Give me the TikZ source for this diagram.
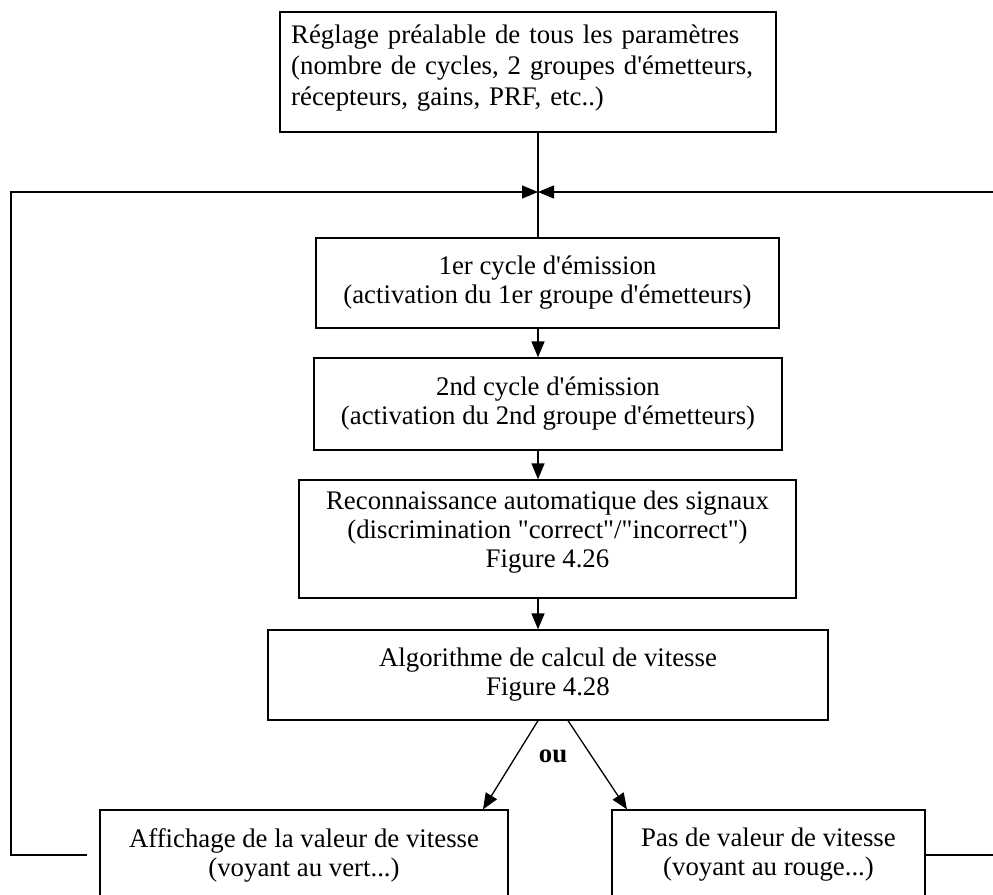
\documentclass[tikz,border=0pt]{standalone}
\usepackage{fontspec}
\setmainfont{Liberation Serif}[Ligatures=TeXOff]
\usetikzlibrary{arrows.meta}
\begin{document}
\begin{tikzpicture}[x=1pt,y=-1pt,
  txt/.style={font=\fontsize{26.8}{29}\selectfont},
  box/.style={draw, line width=1.3pt, inner sep=0pt, align=center, txt},
  ln/.style={line width=1.3pt},
  arr/.style={line width=1.3pt, -{Triangle[length=16pt,width=13pt]}}]
\useasboundingbox (0,0) rectangle (993,894);
\clip (0,0) rectangle (993,894);
% top box and its text
\node[box, minimum width=496pt, minimum height=120pt] (top) at (528,72) {};
\node[inner sep=0pt, anchor=north west, align=left, text width=474pt,
      font=\fontsize{26.8}{31}\selectfont] (toptext) at (291,24.5)
  {Réglage préalable de tous les paramètres\\
   \makebox[474pt][s]{(nombre de cycles, 2 groupes d'émetteurs,}\\
   récepteurs, gains, PRF, etc..)};
% process boxes
\node[box, minimum width=463pt, minimum height=90pt] (b1) at (547.5,283)
  {1er cycle d'émission\\(activation du 1er groupe d'émetteurs)};
\node[box, minimum width=468pt, minimum height=92pt] (b2) at (548,404)
  {2nd cycle d'émission\\(activation du 2nd groupe d'émetteurs)};
\node[box, minimum width=497pt, minimum height=118pt] (b3) at (547.5,539) {};
\node[txt, inner sep=0pt, align=center] (b3text) at (547.5,532)
  {Reconnaissance automatique des signaux\\(discrimination "correct"/"incorrect")\\Figure 4.26};
\node[box, minimum width=560pt, minimum height=90pt] (b4) at (548,675)
  {Algorithme de calcul de vitesse\\Figure 4.28};
\node[box, minimum width=408pt, minimum height=90pt] (bl) at (304,855)
  {Affichage de la valeur de vitesse\\(voyant au vert...)};
\node[box, minimum width=313pt, minimum height=90pt] (br) at (768.5,855)
  {Pas de valeur de vitesse\\(voyant au rouge...)};
\node[font=\bfseries\fontsize{26.8}{29}\selectfont, inner sep=0pt] (ou) at (553,756) {ou};
% helper coordinates
\coordinate (ax) at (538,0);
\coordinate (jn) at (538,192);
\coordinate (lgap) at (87,855);
\coordinate (lc1) at (11,855);
\coordinate (lc2) at (11,192);
\coordinate (rc1) at (993,855);
\coordinate (rc2) at (993,192);
\coordinate (al) at (483,0);
\coordinate (ar) at (568,0);
\coordinate (arr2) at (627,0);
% connectors
\draw[ln] (top.south -| ax) -- (b1.north -| ax);
\draw[arr] (lgap) -- (lc1) -- (lc2) -- (jn);
\draw[ln] (br.east) -- (rc1);
\draw[arr] (rc2) -- (jn);
\draw[arr] (b1.south -| ax) -- (b2.north -| ax);
\draw[arr] (b2.south -| ax) -- (b3.north -| ax);
\draw[arr] (b3.south -| ax) -- (b4.north -| ax);
\draw[arr] (b4.south -| ax) -- (bl.north -| al);
\draw[arr] (b4.south -| ar) -- (br.north -| arr2);
\end{tikzpicture}
\end{document}
